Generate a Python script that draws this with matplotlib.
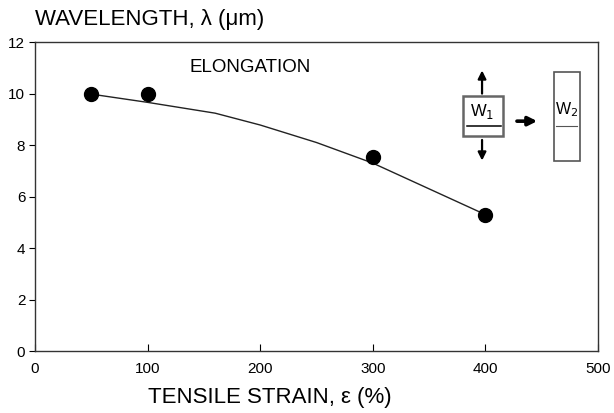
import matplotlib.pyplot as plt
from matplotlib.patches import Rectangle

plt.rcParams['font.family'] = ['Liberation Sans', 'DejaVu Sans']

# measured points
strain = [50, 100, 300, 400]
wavelength = [10.0, 10.0, 7.55, 5.3]

# fitted curve
fit_x = [50, 100, 160, 200, 250, 300, 400]
fit_y = [9.98, 9.66, 9.24, 8.78, 8.1, 7.3, 5.3]

xticks = [0, 100, 200, 300, 400, 500]
yticks = [0, 2, 4, 6, 8, 10, 12]

fig = plt.figure(figsize=(6.14, 4.13), dpi=100)
ax = fig.add_axes([0.057, 0.150, 0.917, 0.748])

ax.plot(fit_x, fit_y, color='#222222', lw=1.0)
ax.plot(strain, wavelength, 'o', color='black', markersize=10)

ax.set_xlim(0, 500)
ax.set_ylim(0, 12)
ax.set_xticks(xticks)
ax.set_yticks(yticks)
ax.tick_params(axis='x', direction='in', length=5, labelsize=11, pad=8)
ax.tick_params(axis='y', direction='out', length=4, labelsize=11, pad=3)
for s in ax.spines.values():
    s.set_color('#333333')
    s.set_linewidth(1.0)

ax.text(137, 11.0, 'ELONGATION', fontsize=13.5, va='center', ha='left')

# inset sketch of the sample being stretched
arrow = dict(arrowstyle='-|>', color='black', lw=1.6, mutation_scale=12,
             shrinkA=0, shrinkB=0)
ax.add_patch(Rectangle((380, 8.35), 35.6, 1.55, fill=False, edgecolor='#666666', lw=1.8))
ax.text(397, 9.3, 'W$_1$', fontsize=12, ha='center', va='center')
ax.plot([383.7, 413.9], [8.74, 8.74], color='black', lw=1.1)
ax.annotate('', xy=(397, 10.9), xytext=(397, 10.0), arrowprops=arrow)
ax.annotate('', xy=(397, 7.4), xytext=(397, 8.2), arrowprops=arrow)
ax.annotate('', xy=(446, 8.93), xytext=(428, 8.93),
            arrowprops=dict(arrow, lw=2.6, mutation_scale=13))
ax.add_patch(Rectangle((461, 7.38), 23, 3.45, fill=False, edgecolor='#555555', lw=1.2))
ax.text(472.5, 9.36, 'W$_2$', fontsize=11.5, ha='center', va='center')
ax.plot([462.7, 481.4], [8.74, 8.74], color='#555555', lw=0.8)

fig.text(0.057, 0.952, 'WAVELENGTH, λ (μm)', fontsize=16, ha='left', va='center')
fig.text(0.44, 0.038, 'TENSILE STRAIN, ε (%)', fontsize=16, ha='center', va='center')

fig.savefig('out.png', dpi=100)
